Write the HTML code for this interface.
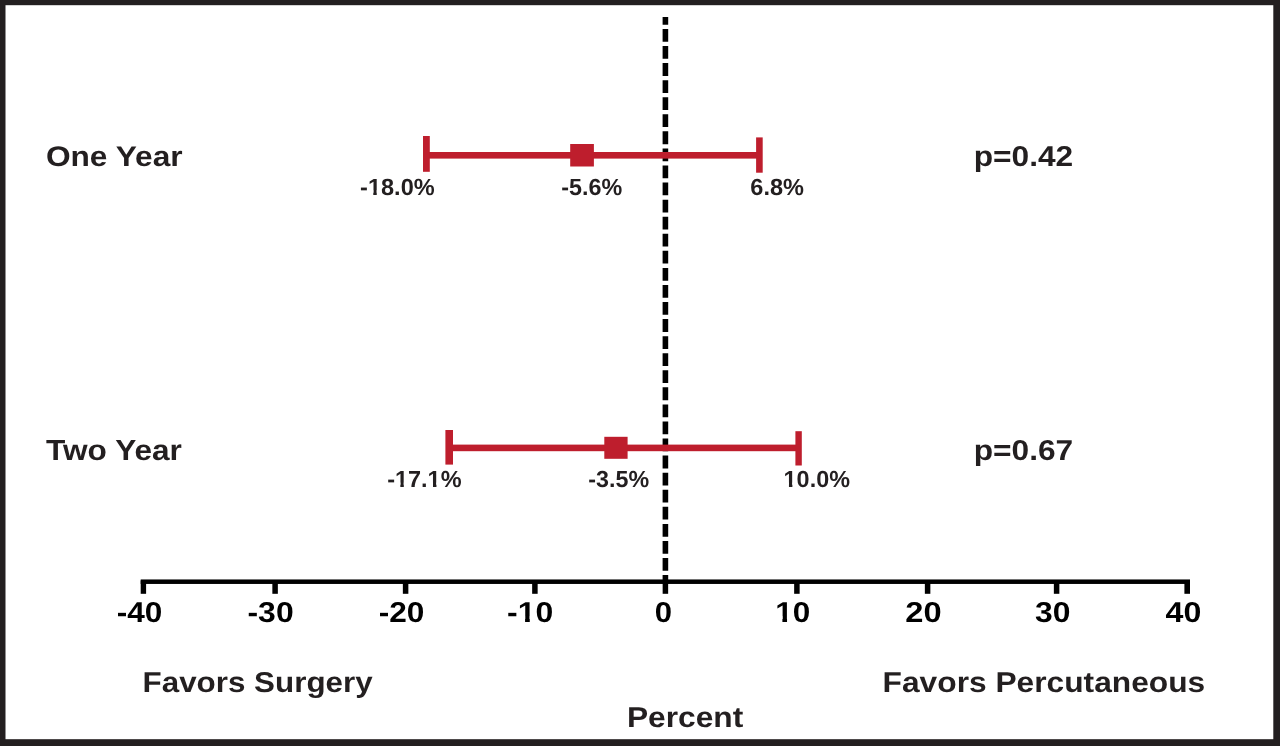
<!DOCTYPE html>
<html lang="en">
<head>
<meta charset="utf-8">
<title>Forest plot</title>
<style>
html,body{margin:0;padding:0;background:#fff;}
body{width:1280px;height:746px;overflow:hidden;}
svg{display:block;}
text{font-family:"Liberation Sans",Arial,Helvetica,sans-serif;font-weight:bold;text-rendering:geometricPrecision;}
.d{fill:#231f20;}
.k{fill:#000;}
</style>
</head>
<body>
<svg width="1280" height="746" viewBox="0 0 1280 746">
<rect x="0" y="0" width="1280" height="746" fill="#231f20"/>
<rect x="5.5" y="5.2" width="1267.8" height="734" fill="#fff"/>

<!-- zero reference dashed line -->
<line x1="665.4" y1="16.9" x2="665.4" y2="580.45" stroke="#000" stroke-width="5.6" stroke-dasharray="12.8 4.266" stroke-dashoffset="5"/>

<!-- x axis -->
<g fill="#000">
<rect x="140.7" y="579.45" width="1049.3" height="4.5"/>
<rect x="140.7" y="580.45" width="5.4" height="13.35"/>
<rect x="272.35" y="580.45" width="5.5" height="13.35"/>
<rect x="402.85" y="580.45" width="5.5" height="13.35"/>
<rect x="532.15" y="580.45" width="5.5" height="13.35"/>
<rect x="662.65" y="580.45" width="5.5" height="13.35"/>
<rect x="794.15" y="580.45" width="5.5" height="13.35"/>
<rect x="924.85" y="580.45" width="5.5" height="13.35"/>
<rect x="1053.85" y="580.45" width="5.5" height="13.35"/>
<rect x="1184.4" y="580.45" width="5.6" height="13.35"/>
</g>

<!-- confidence intervals -->
<g fill="#be1e2d">
<rect x="424" y="152" width="337.7" height="6.6"/>
<rect x="423" y="136" width="6.8" height="35.8"/>
<rect x="756.1" y="137.4" width="6.6" height="35.3"/>
<rect x="570.2" y="144" width="23.7" height="22.5"/>
</g>
<g fill="#be1e2d">
<rect x="446.4" y="444.6" width="354.4" height="6.6"/>
<rect x="445.4" y="430" width="7.6" height="34.6"/>
<rect x="795.4" y="431.2" width="6.4" height="34.3"/>
<rect x="604.3" y="436.8" width="23.3" height="22"/>
</g>

<!-- labels -->
<text class="d" transform="translate(45.93 166.25) scale(1.114 1)" font-size="28.41">One Year</text>
<text class="d" transform="translate(46.08 460.25) scale(1.088 1)" font-size="29.06">Two Year</text>
<text class="d" transform="translate(973.68 166.45) scale(1.1041 1)" font-size="28.7">p=0.42</text>
<text class="d" transform="translate(973.68 460.2) scale(1.0986 1)" font-size="28.84">p=0.67</text>
<g transform="translate(360.06 194.9) scale(1.0092 1)"><text class="d" font-size="23.33" style="font-kerning:none">-18.0%</text><rect x="8.11" y="-4.78" width="4.99" height="5.24" fill="#fff"/><rect x="16.53" y="-4.78" width="4.74" height="5.24" fill="#fff"/></g>
<text class="d" transform="translate(561.32 194.9) scale(1.0006 1)" font-size="23.33">-5.6%</text>
<text class="d" transform="translate(750.31 194.9) scale(1.0084 1)" font-size="23.33">6.8%</text>
<g transform="translate(387.16 487.3) scale(1.0127 1)"><text class="d" font-size="23.19" style="font-kerning:none">-17.1%</text><rect x="8.06" y="-4.76" width="4.96" height="5.21" fill="#fff"/><rect x="16.43" y="-4.76" width="4.71" height="5.21" fill="#fff"/><rect x="40.30" y="-4.76" width="4.96" height="5.21" fill="#fff"/><rect x="48.67" y="-4.76" width="4.71" height="5.21" fill="#fff"/></g>
<text class="d" transform="translate(588.32 487.3) scale(1.0043 1)" font-size="23.19">-3.5%</text>
<g transform="translate(783.6 487.3) scale(1.0091 1)"><text class="d" font-size="23.19" style="font-kerning:none">10.0%</text><rect x="0.34" y="-4.76" width="4.96" height="5.21" fill="#fff"/><rect x="8.71" y="-4.76" width="4.71" height="5.21" fill="#fff"/></g>
<text class="d" transform="translate(142.55 691.8) scale(1.0932 1)" font-size="28.7">Favors Surgery</text>
<text class="d" transform="translate(882.58 691.85) scale(1.1029 1)" font-size="28.77">Favors Percutaneous</text>
<text class="d" transform="translate(626.98 727.0) scale(1.0996 1)" font-size="28.84">Percent</text>
<text class="k" transform="translate(116.74 622.0) scale(1.0965 1)" font-size="28.77">-40</text>
<text class="k" transform="translate(247.47 622.0) scale(1.1106 1)" font-size="28.77">-30</text>
<text class="k" transform="translate(378.74 622.0) scale(1.0991 1)" font-size="28.77">-20</text>
<g transform="translate(507.12 622.0) scale(1.1118 1)"><text class="k" font-size="28.77" style="font-kerning:none">-10</text><rect x="10.00" y="-5.90" width="6.15" height="6.46" fill="#fff"/><rect x="20.38" y="-5.90" width="5.84" height="6.46" fill="#fff"/></g>
<text class="k" transform="translate(654.76 622.0) scale(1.0798 1)" font-size="28.77">0</text>
<g transform="translate(775.21 622.0) scale(1.0944 1)"><text class="k" font-size="28.77" style="font-kerning:none">10</text><rect x="0.42" y="-5.90" width="6.15" height="6.46" fill="#fff"/><rect x="10.80" y="-5.90" width="5.84" height="6.46" fill="#fff"/></g>
<text class="k" transform="translate(905.27 622.0) scale(1.1347 1)" font-size="28.77">20</text>
<text class="k" transform="translate(1034.95 622.0) scale(1.1063 1)" font-size="28.77">30</text>
<text class="k" transform="translate(1165.61 622.0) scale(1.1173 1)" font-size="28.77">40</text>
</svg>
</body>
</html>
